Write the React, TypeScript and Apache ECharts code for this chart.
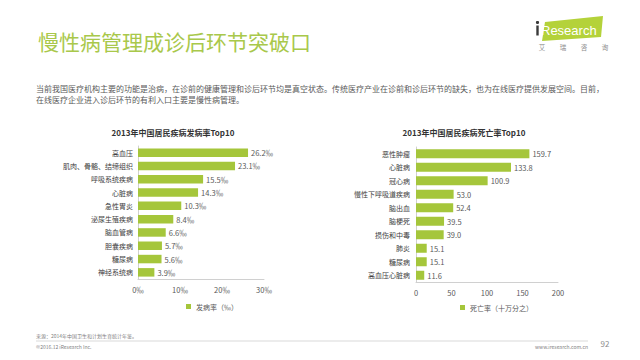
import React, { useEffect, useRef } from "react";
import * as echarts from "echarts";

const incidenceCategories = ["高血压", "肌肉、骨骼、结缔组织", "呼吸系统疾病", "心脏病", "急性胃炎", "泌尿生殖疾病", "脑血管病", "胆囊疾病", "糖尿病", "神经系统病"];
const incidenceValues = [26.2, 23.1, 15.5, 14.3, 10.3, 8.4, 6.6, 5.7, 5.6, 3.9];
const mortalityCategories = ["恶性肿瘤", "心脏病", "冠心病", "慢性下呼吸道疾病", "脑出血", "脑梗死", "损伤和中毒", "肺炎", "糖尿病", "高血压心脏病"];
const mortalityValues = [159.7, 133.8, 100.9, 53.0, 52.4, 39.5, 39.0, 15.1, 15.1, 11.6];
const incidenceTicks = { min: 0, max: 30, interval: 10 };
const mortalityTicks = { min: 0, max: 200, interval: 50 };

const pageTitle = "慢性病管理成诊后环节突破口";
const paragraphLines = [
  "当前我国医疗机构主要的功能是治病，在诊前的健康管理和诊后环节均是真空状态。传统医疗产业在诊前和诊后环节的缺失，也为在线医疗提供发展空间。目前，",
  "在线医疗企业进入诊后环节的有利入口主要是慢性病管理。",
];
const leftChartTitle = "2013年中国居民疾病发病率Top10";
const rightChartTitle = "2013年中国居民疾病死亡率Top10";
const leftLegend = "发病率（‰）";
const rightLegend = "死亡率（十万分之）";
const sourceText = "来源：2014年中国卫生和计划生育统计年鉴。";
const copyrightText = "©2016.12 iResearch Inc.";
const siteText = "www.iresearch.com.cn";
const pageNumber = "92";

const CJK = '"Noto Sans CJK SC", "Noto Sans", sans-serif';
const BAR = "#a5c63b";
const GRAY = "#595959";

export default function App() {
  const ref = useRef<HTMLDivElement>(null);
  useEffect(() => {
    if (!ref.current) return;
    const chart = echarts.init(ref.current, null, { renderer: "svg" });
    const axisLabelCommon = { color: GRAY, fontSize: 7.5, fontFamily: CJK };
    const option: any = {
      animation: false,
      backgroundColor: "#ffffff",
      textStyle: { fontFamily: CJK },
      grid: [
        { left: 138, top: 146, width: 126, height: 133, containLabel: false },
        { left: 416, top: 147, width: 142, height: 135, containLabel: false },
      ],
      xAxis: [
        {
          gridIndex: 0, type: "value", ...incidenceTicks,
          axisLine: { show: true, lineStyle: { color: "#d0d0d0" } },
          axisTick: { show: false }, splitLine: { show: false },
          axisLabel: { ...axisLabelCommon, margin: 7, formatter: "{value}‰" },
        },
        {
          gridIndex: 1, type: "value", ...mortalityTicks,
          axisLine: { show: true, lineStyle: { color: "#d0d0d0" } },
          axisTick: { show: false }, splitLine: { show: false },
          axisLabel: { ...axisLabelCommon, margin: 7 },
        },
      ],
      yAxis: [
        {
          gridIndex: 0, type: "category", inverse: true, data: incidenceCategories,
          axisLine: { show: true, lineStyle: { color: "#d0d0d0" } },
          axisTick: { show: false },
          axisLabel: { color: "#404040", fontSize: 7, fontFamily: CJK, margin: 5 },
        },
        {
          gridIndex: 1, type: "category", inverse: true, data: mortalityCategories,
          axisLine: { show: true, lineStyle: { color: "#d0d0d0" } },
          axisTick: { show: false },
          axisLabel: { color: "#404040", fontSize: 7, fontFamily: CJK, margin: 6 },
        },
      ],
      legend: [
        {
          data: [leftLegend], left: 181, top: 298, icon: "rect", itemWidth: 5, itemHeight: 5,
          textStyle: { color: GRAY, fontSize: 7, fontFamily: CJK },
        },
        {
          data: [rightLegend], left: 455, top: 299, icon: "rect", itemWidth: 5, itemHeight: 5,
          textStyle: { color: GRAY, fontSize: 7, fontFamily: CJK },
        },
      ],
      series: [
        {
          name: leftLegend, type: "bar", xAxisIndex: 0, yAxisIndex: 0, data: incidenceValues,
          barWidth: 8.5, itemStyle: { color: BAR },
          label: { show: true, position: "right", distance: 3, color: GRAY, fontSize: 7.5, formatter: (p: any) => p.value.toFixed(1) + "‰" },
        },
        {
          name: rightLegend, type: "bar", xAxisIndex: 1, yAxisIndex: 1, data: mortalityValues,
          barWidth: 9, itemStyle: { color: BAR },
          label: { show: true, position: "right", distance: 3, color: GRAY, fontSize: 7.5, formatter: (p: any) => p.value.toFixed(1) },
        },
      ],
      graphic: [
        { type: "text", left: 38, top: 30, style: { text: pageTitle, fill: "#a9c84b", font: `21px ${CJK}` } },
        ...paragraphLines.map((t, i) => ({
          type: "text", x: 36, y: 88 + i * 11.5,
          style: { text: t, fill: GRAY, font: `8px ${CJK}`, verticalAlign: "middle" },
        })),
        { type: "text", x: 173, y: 132, style: { text: leftChartTitle, fill: "#333333", font: `bold 8px ${CJK}`, align: "center", verticalAlign: "middle" } },
        { type: "text", x: 464, y: 132, style: { text: rightChartTitle, fill: "#333333", font: `bold 8px ${CJK}`, align: "center", verticalAlign: "middle" } },
        // logo
        { type: "polygon", shape: { points: [[545, 22], [603, 16], [601, 37], [542, 41]] }, style: { fill: "#b4d23a" } },
        { type: "circle", shape: { cx: 537.5, cy: 22.5, r: 1.6 }, style: { fill: "#3a3a3a" } },
        { type: "rect", shape: { x: 536.3, y: 25.5, width: 2.4, height: 10 }, style: { fill: "#3a3a3a" } },
        { type: "text", x: 541, y: 30.5, style: { text: "Research", fill: "#ffffff", font: '13px "Liberation Sans", Arial, sans-serif', verticalAlign: "middle" } },
        ...["艾", "瑞", "咨", "询"].map((c, i) => ({
          type: "text", x: 542 + i * 21, y: 47,
          style: { text: c, fill: "#8c8c8c", font: `6.5px ${CJK}`, align: "center", verticalAlign: "middle" },
        })),
        // footer
        { type: "text", x: 36, y: 335.5, style: { text: sourceText, fill: "#7f7f7f", font: `5px ${CJK}`, verticalAlign: "middle" } },
        { type: "line", shape: { x1: 36, y1: 341, x2: 588, y2: 341 }, style: { stroke: "#bfbfbf", lineWidth: 0.6 } },
        { type: "text", x: 36, y: 346, style: { text: copyrightText, fill: "#7f7f7f", font: `5px ${CJK}`, verticalAlign: "middle" } },
        { type: "text", x: 588, y: 346, style: { text: siteText, fill: "#7f7f7f", font: `5px ${CJK}`, align: "right", verticalAlign: "middle" } },
        { type: "text", x: 605, y: 343, style: { text: pageNumber, fill: "#8c8c8c", font: `8px ${CJK}`, align: "center", verticalAlign: "middle" } },
      ],
    };
    chart.setOption(option);
    return () => chart.dispose();
  }, []);
  return <div ref={ref} style={{ position: "absolute", left: 0, top: 0, width: 640, height: 360, background: "#fff" }} />;
}
